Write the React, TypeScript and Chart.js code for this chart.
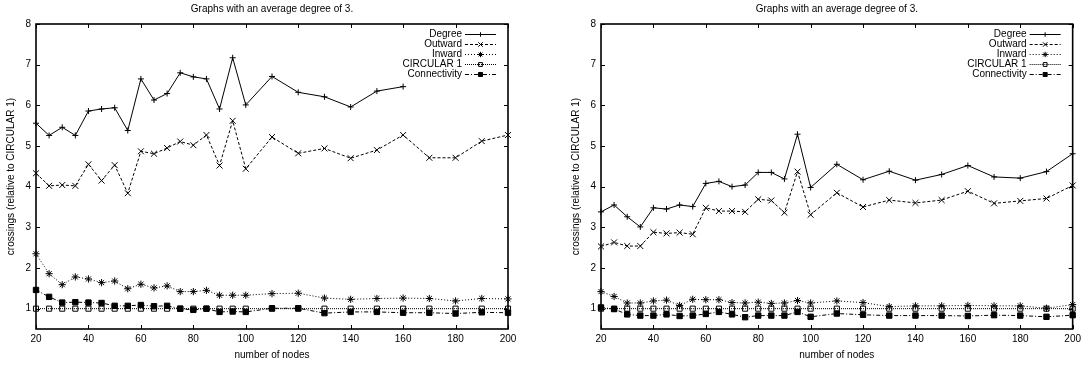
import React, { useEffect, useRef } from 'react';
import { Chart, registerables } from 'chart.js';
import { drawPoint } from 'chart.js/helpers';

Chart.register(...registerables);

const FONT = '"Liberation Sans", Arial, Helvetica, sans-serif';
const TITLE = 'Graphs with an average degree of 3.';
const X_TITLE = 'number of nodes';
const Y_TITLE = 'crossings (relative to CIRCULAR 1)';

const NODES = [20, 25, 30, 35, 40, 45, 50, 55, 60, 65, 70, 75, 80, 85, 90, 95, 100, 110, 120, 130, 140, 150, 160, 170, 180, 190, 200];

// Left panel
const degreeL = [5.56, 5.26, 5.46, 5.26, 5.86, 5.91, 5.94, 5.38, 6.65, 6.13, 6.29, 6.80, 6.70, 6.65, 5.91, 7.17, 6.01, 6.71, 6.32, 6.21, 5.96, 6.35, 6.46];
const outwardL = [4.33, 4.02, 4.04, 4.02, 4.55, 4.15, 4.53, 3.84, 4.87, 4.81, 4.95, 5.11, 5.02, 5.27, 4.52, 5.62, 4.44, 5.22, 4.82, 4.94, 4.70, 4.90, 5.27, 4.71, 4.71, 5.12, 5.27];
const inwardL = [2.35, 1.86, 1.59, 1.78, 1.73, 1.64, 1.68, 1.49, 1.60, 1.51, 1.56, 1.42, 1.42, 1.45, 1.33, 1.33, 1.33, 1.37, 1.38, 1.26, 1.23, 1.25, 1.26, 1.25, 1.19, 1.25, 1.24];
const circularL = [1, 1, 1, 1, 1, 1, 1, 1, 1, 1, 1, 1, 1, 1, 1, 1, 1, 1, 1, 1, 1, 1, 1, 1, 1, 1, 1];
const connectivityL = [1.46, 1.29, 1.15, 1.16, 1.15, 1.14, 1.07, 1.07, 1.09, 1.06, 1.07, 1.00, 0.97, 1.00, 0.92, 0.93, 0.92, 1.01, 1.01, 0.89, 0.92, 0.92, 0.90, 0.90, 0.88, 0.91, 0.90];

// Right panel
const degreeR = [3.38, 3.55, 3.26, 3.01, 3.48, 3.45, 3.55, 3.51, 4.08, 4.13, 4.00, 4.04, 4.35, 4.35, 4.19, 5.29, 3.98, 4.55, 4.17, 4.38, 4.16, 4.30, 4.52, 4.24, 4.21, 4.37, 4.81];
const outwardR = [2.53, 2.63, 2.54, 2.54, 2.88, 2.85, 2.87, 2.83, 3.48, 3.40, 3.40, 3.38, 3.69, 3.66, 3.36, 4.37, 3.31, 3.85, 3.50, 3.67, 3.60, 3.67, 3.89, 3.59, 3.65, 3.71, 4.03];
const inwardR = [1.42, 1.30, 1.14, 1.14, 1.19, 1.21, 1.08, 1.23, 1.22, 1.22, 1.15, 1.14, 1.16, 1.13, 1.14, 1.20, 1.14, 1.19, 1.15, 1.05, 1.07, 1.07, 1.08, 1.07, 1.07, 1.01, 1.10];
const circularR = [1, 1, 1, 1, 1, 1, 1, 1, 1, 1, 1, 1, 1, 1, 1, 1, 1, 1, 1, 1, 1, 1, 1, 1, 1, 1, 1];
const connectivityR = [1.03, 0.99, 0.86, 0.83, 0.83, 0.86, 0.82, 0.83, 0.87, 0.92, 0.86, 0.79, 0.83, 0.83, 0.83, 0.92, 0.80, 0.88, 0.85, 0.83, 0.83, 0.83, 0.82, 0.84, 0.83, 0.80, 0.84];

const SERIES_LABELS = ['Degree', 'Outward', 'Inward', 'CIRCULAR 1', 'Connectivity'];

const STYLES = [
  { borderDash: [], pointStyle: 'cross', pointRadius: 3, pointBackgroundColor: '#000' },
  { borderDash: [3, 2], pointStyle: 'crossRot', pointRadius: 4.2, pointBackgroundColor: '#000' },
  { borderDash: [1, 2], pointStyle: 'star', pointRadius: 3.6, pointBackgroundColor: '#000' },
  { borderDash: [1, 1], pointStyle: 'rect', pointRadius: 3.6, pointBackgroundColor: 'rgba(0,0,0,0)' },
  { borderDash: [4, 2, 1, 2], pointStyle: 'rect', pointRadius: 3.8, pointBackgroundColor: '#000' },
];

const toPoints = (values: number[]) => values.map((v, i) => ({ x: NODES[i], y: v }));

const framePlugin = {
  id: 'gpFrame',
  afterDatasetsDraw(chart: any) {
    const { ctx, chartArea } = chart;
    const { left, right, top, bottom } = chartArea;
    const xs = chart.scales.x;
    const ys = chart.scales.y;
    ctx.save();
    ctx.strokeStyle = '#000';
    ctx.lineWidth = 1;
    const L = 4;
    xs.ticks.forEach((t: any) => {
      const px = Math.round(xs.getPixelForValue(t.value)) + 0.5;
      ctx.beginPath();
      ctx.moveTo(px, bottom);
      ctx.lineTo(px, bottom - L);
      ctx.moveTo(px, top);
      ctx.lineTo(px, top + L);
      ctx.stroke();
    });
    ys.ticks.forEach((t: any) => {
      const py = Math.round(ys.getPixelForValue(t.value)) + 0.5;
      ctx.beginPath();
      ctx.moveTo(left, py);
      ctx.lineTo(left + L, py);
      ctx.moveTo(right, py);
      ctx.lineTo(right - L, py);
      ctx.stroke();
    });
    ctx.lineWidth = 1.6;
    ctx.strokeRect(left, top, right - left, bottom - top);
    ctx.restore();
  },
};

const legendPlugin = {
  id: 'gpLegend',
  afterDraw(chart: any) {
    const { ctx, chartArea } = chart;
    ctx.save();
    ctx.font = `10px ${FONT}`;
    ctx.textAlign = 'right';
    ctx.textBaseline = 'middle';
    chart.data.datasets.forEach((ds: any, i: number) => {
      const y = chartArea.top + 10 + i * 10;
      ctx.fillStyle = '#000';
      ctx.fillText(ds.label, chartArea.right - 46, y);
      ctx.strokeStyle = '#000';
      ctx.lineWidth = 1;
      ctx.setLineDash(ds.borderDash || []);
      ctx.beginPath();
      ctx.moveTo(chartArea.right - 43, y + 0.5);
      ctx.lineTo(chartArea.right - 12, y + 0.5);
      ctx.stroke();
      ctx.setLineDash([]);
      ctx.fillStyle = ds.pointBackgroundColor;
      drawPoint(ctx, { pointStyle: ds.pointStyle, radius: ds.pointRadius * 0.75, borderWidth: 1, rotation: 0 } as any, chartArea.right - 27.5, y + 0.5);
    });
    ctx.restore();
  },
};

type PanelProps = {
  series: number[][];
  width: number;
  padLeft: number;
  padRight: number;
};

function Panel({ series, width, padLeft, padRight }: PanelProps) {
  const ref = useRef<HTMLCanvasElement | null>(null);
  useEffect(() => {
    if (!ref.current) return;
    const font = { family: FONT, size: 10, weight: 'normal' as const };
    const datasets = series.map((vals, i) => ({
      label: SERIES_LABELS[i],
      data: toPoints(vals),
      borderColor: '#000',
      borderWidth: 1,
      borderDash: STYLES[i].borderDash,
      pointStyle: STYLES[i].pointStyle,
      pointRadius: STYLES[i].pointRadius,
      pointBorderColor: '#000',
      pointBackgroundColor: STYLES[i].pointBackgroundColor,
      pointBorderWidth: 1,
      tension: 0,
      fill: false,
      clip: false as any,
    }));
    const chart = new Chart(ref.current, {
      type: 'line',
      data: { datasets } as any,
      options: {
        responsive: false,
        animation: false,
        events: [],
        layout: { padding: { left: padLeft, right: padRight, top: 0, bottom: 0 } },
        plugins: {
          legend: { display: false },
          tooltip: { enabled: false },
          title: {
            display: true,
            text: TITLE,
            fullSize: false,
            color: '#000',
            font,
            padding: { top: 3.5, bottom: 8.5 },
          },
        },
        scales: {
          x: {
            type: 'linear',
            min: 20,
            max: 200,
            ticks: { stepSize: 20, includeBounds: false, color: '#000', font, padding: 4, maxRotation: 0, autoSkip: false },
            grid: { display: false, drawTicks: false },
            border: { display: false },
            title: { display: true, text: X_TITLE, color: '#000', font, padding: { top: 0, bottom: 6 } },
            afterFit: (s: any) => { s.height = 38; },
          },
          y: {
            type: 'linear',
            min: 0.5,
            max: 8,
            ticks: { stepSize: 1, includeBounds: false, color: '#000', font, padding: 5 },
            grid: { display: false, drawTicks: false },
            border: { display: false },
            title: { display: true, text: Y_TITLE, color: '#000', font, padding: { top: 5, bottom: 0 } },
            afterFit: (s: any) => { s.width = 36; },
          },
        },
      } as any,
      plugins: [framePlugin, legendPlugin],
    });
    return () => chart.destroy();
  }, [series, width, padLeft, padRight]);
  return <canvas ref={ref} width={width} height={367} style={{ width, height: 367, display: 'block' }} />;
}

const LEFT_SERIES = [degreeL, outwardL, inwardL, circularL, connectivityL];
const RIGHT_SERIES = [degreeR, outwardR, inwardR, circularR, connectivityR];

export default function App() {
  return (
    <div style={{ position: 'absolute', left: 0, top: 0, width: 1085, height: 367, background: '#fff', display: 'flex' }}>
      <Panel series={LEFT_SERIES} width={545} padLeft={0} padRight={37} />
      <Panel series={RIGHT_SERIES} width={540} padLeft={20} padRight={11} />
    </div>
  );
}
